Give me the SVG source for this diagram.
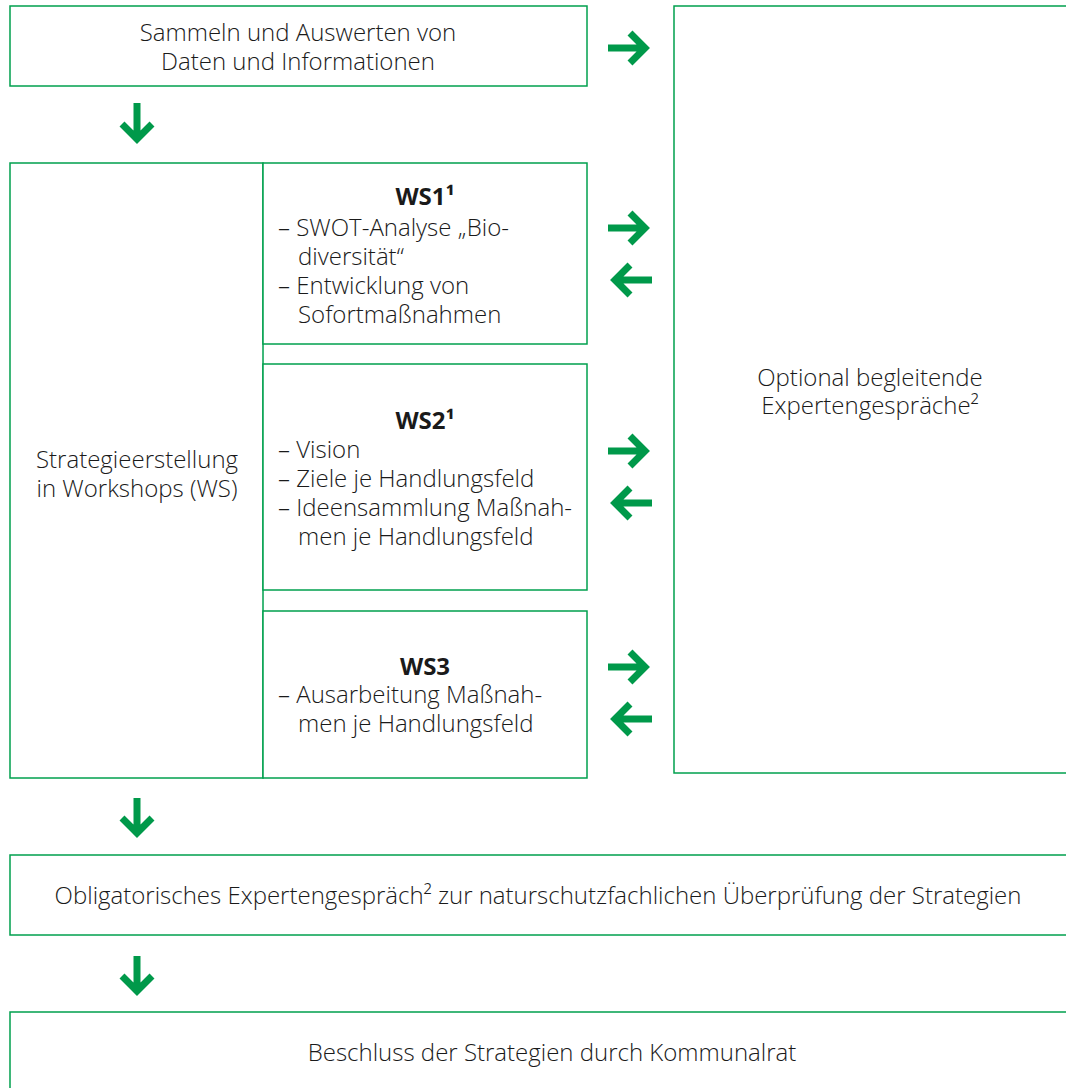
<svg xmlns="http://www.w3.org/2000/svg" width="1066" height="1088" viewBox="0 0 1066 1088">
<style>
.box{fill:#fff;stroke:#00a04e;stroke-width:1.5}
.t{font-family:"Open Sans","Noto Sans","Liberation Sans",sans-serif;font-size:24px;fill:#1a1a1a;font-weight:300}
.c{text-anchor:middle}
.b{font-weight:700}
.arr{fill:none;stroke:#00994a;stroke-width:7;stroke-linecap:butt;stroke-linejoin:miter}
</style>
<rect width="1066" height="1088" fill="#fff"/>
<g id="n-daten">
<rect class="box" x="10" y="6" width="577" height="80"/>
<text class="t c" x="298" y="41">Sammeln und Auswerten von</text>
<text class="t c" x="298" y="70">Daten und Informationen</text>
</g>
<g id="n-experten-opt">
<rect class="box" x="674" y="6" width="400" height="767"/>
<text class="t c" x="870" y="386">Optional begleitende</text>
<text class="t c" x="870" y="414">Expertengespräche²</text>
</g>
<g id="n-strategie">
<rect class="box" x="10" y="163" width="253" height="615"/>
<text class="t c" x="137" y="468">Strategieerstellung</text>
<text class="t c" x="137" y="497">in Workshops (WS)</text>
</g>
<g id="n-ws1">
<rect class="box" x="263" y="163" width="324" height="181"/>
<text class="t c b" x="425" y="205">WS1¹</text>
<text class="t" x="278" y="236">– SWOT-Analyse „Bio-</text>
<text class="t" x="298" y="265">diversität“</text>
<text class="t" x="278" y="294">– Entwicklung von</text>
<text class="t" x="298" y="323">Sofortmaßnahmen</text>
</g>
<g id="n-ws2">
<rect class="box" x="263" y="364" width="324" height="226"/>
<text class="t c b" x="425" y="429">WS2¹</text>
<text class="t" x="278" y="458">– Vision</text>
<text class="t" x="278" y="487">– Ziele je Handlungsfeld</text>
<text class="t" x="278" y="516">– Ideensammlung Maßnah-</text>
<text class="t" x="298" y="545">men je Handlungsfeld</text>
</g>
<g id="n-ws3">
<rect class="box" x="263" y="611" width="324" height="167"/>
<text class="t c b" x="425" y="675">WS3</text>
<text class="t" x="278" y="703">– Ausarbeitung Maßnah-</text>
<text class="t" x="298" y="732">men je Handlungsfeld</text>
</g>
<g id="n-obligatorisch">
<rect class="box" x="10" y="855" width="1070" height="80"/>
<text class="t c" x="538" y="904">Obligatorisches Expertengespräch² zur naturschutzfachlichen Überprüfung der Strategien</text>
</g>
<g id="n-beschluss">
<rect class="box" x="10" y="1012" width="1070" height="100"/>
<text class="t c" x="552" y="1061">Beschluss der Strategien durch Kommunalrat</text>
</g>
<g id="connectors">
<path class="arr" d="M608 48H646M630 33L645 48L630 63"/>
<path class="arr" d="M137 103V140M122 124L137 139L152 124"/>
<path class="arr" d="M608 228H646M630 213L645 228L630 243"/>
<path class="arr" d="M652 280H614M630 265L615 280L630 295"/>
<path class="arr" d="M608 451H646M630 436L645 451L630 466"/>
<path class="arr" d="M652 503H614M630 488L615 503L630 518"/>
<path class="arr" d="M608 667H646M630 652L645 667L630 682"/>
<path class="arr" d="M652 719H614M630 704L615 719L630 734"/>
<path class="arr" d="M137 798V834M122 818L137 833L152 818"/>
<path class="arr" d="M137 956V992M122 976L137 991L152 976"/>
</g>
</svg>
